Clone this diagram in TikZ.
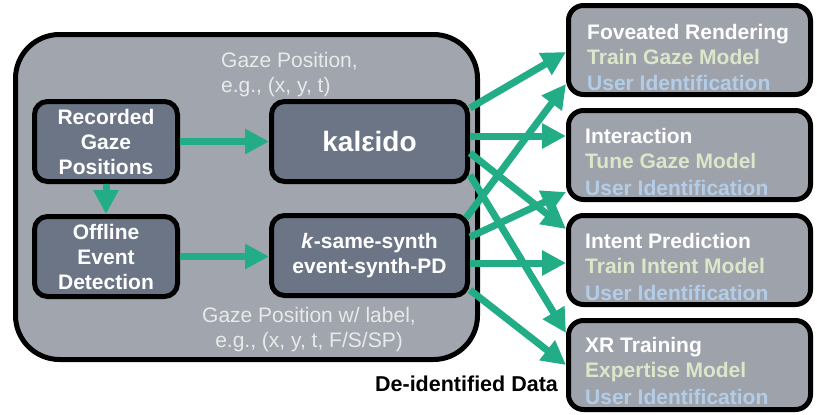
\documentclass[tikz,border=0pt]{standalone}
\usepackage{fontspec}
\setmainfont{Liberation Sans}
\usepackage{xcolor}
\usepackage{tikz}
\usetikzlibrary{arrows.meta,positioning,calc}

\definecolor{frameGray}{HTML}{A1A5AD}
\definecolor{innerGray}{HTML}{6B7585}
\definecolor{appGray}{HTML}{9EA2AB}
\definecolor{arrowGreen}{HTML}{22AD87}
\definecolor{noteGray}{HTML}{E8E9EA}
\definecolor{taskGreen}{HTML}{DCE6C8}
\definecolor{idBlue}{HTML}{B3CDE8}

\newcommand{\mainsize}{\fontsize{21}{25}\selectfont}

\begin{document}
\begin{tikzpicture}[
    x=1pt,y=-1pt,
    frame/.style={rectangle,draw,line width=5pt,rounded corners=44pt,fill=frameGray,minimum width=462pt,minimum height=325pt},
    stage/.style={rectangle,draw,line width=5pt,rounded corners=13pt,fill=innerGray,minimum height=80pt,align=center,text=white,font=\mainsize\bfseries},
    appbox/.style={rectangle,draw,line width=5pt,rounded corners=15pt,fill=appGray,minimum width=242pt,minimum height=89pt},
    apptext/.style={anchor=north west,inner sep=0pt,align=left,text=white,font=\mainsize\bfseries},
    note/.style={text=noteGray,font=\mainsize,inner sep=0pt},
    flow/.style={draw=arrowGreen,line width=7pt,-{Triangle[width=24pt,length=24pt]}}
]
\useasboundingbox (0,0) rectangle (817,415);

\node[frame] (core) at (246.5,197) {};

\node[stage,minimum width=143pt] (rec) at (106,141.5) {Recorded\\Gaze\\Positions};
\node[stage,minimum width=143pt,below=30pt of rec] (off) {Offline\\Event\\Detection};
\node[stage,minimum width=196pt,right=89pt of rec,font=\fontsize{28}{30}\selectfont\bfseries] (kal) {kalεido};
\node[stage,minimum width=196pt,below=29pt of kal] (ksame) {\textit{k}-same-synth\\event-synth-PD};

\node[note,align=left] (gpos) at (289.5,74.5) {Gaze Position,\\e.g., (x, y, t)};
\node[note,align=center] (glabel) at (309,330) {Gaze Position w/ label,\\e.g., (x, y, t, F/S/SP)};
\node[font=\fontsize{21.5}{25}\selectfont\bfseries,inner sep=0pt] (deid) at (466.5,384) {De-identified Data};

\node[appbox] (fov) at (689.5,50) {};
\node[appbox,below=11pt of fov] (inter) {};
\node[appbox,below=11pt of inter] (intent) {};
\node[appbox,below=11pt of intent] (xr) {};

\node[apptext] (fovtxt) at ([shift={(21,21)}]fov.north west) {Foveated Rendering\\\textcolor{taskGreen}{Train Gaze Model}\\[1pt]\textcolor{idBlue}{User Identification}};
\node[apptext] (intertxt) at ([shift={(19,20)}]inter.north west) {Interaction\\\textcolor{taskGreen}{Tune Gaze Model}\\[2pt]\textcolor{idBlue}{User Identification}};
\node[apptext] (intenttxt) at ([shift={(19,20)}]intent.north west) {Intent Prediction\\\textcolor{taskGreen}{Train Intent Model}\\[2pt]\textcolor{idBlue}{User Identification}};
\node[apptext] (xrtxt) at ([shift={(19,19)}]xr.north west) {XR Training\\\textcolor{taskGreen}{Expertise Model}\\[2pt]\textcolor{idBlue}{User Identification}};

\draw[flow] (rec) -- (kal);
\draw[flow] (rec) -- (off);
\draw[flow] (off.east) -- (off.east -| ksame.west);

\draw[flow] ($(kal.east)+(0,-33.5)$) -- ($(fov.west)+(0,2)$);
\draw[flow] ($(kal.east)+(0,-5.5)$) -- ($(inter.west)+(0,-19)$);
\draw[flow] ($(kal.east)+(0,11.5)$) -- ($(intent.west)+(0,-31)$);
\draw[flow] ($(kal.east)+(0,33.5)$) -- ($(xr.west)+(0,-32)$);
\draw[flow] ($(ksame.north east)+(-4,5)$) -- ($(fov.west)+(0,34)$);
\draw[flow] ($(ksame.east)+(0,-18.5)$) -- ($(inter.west)+(0,37)$);
\draw[flow] ($(ksame.east)+(0,7.5)$) -- ($(intent.west)+(0,3)$);
\draw[flow] ($(ksame.east)+(0,34.5)$) -- (xr.west);
\end{tikzpicture}
\end{document}
